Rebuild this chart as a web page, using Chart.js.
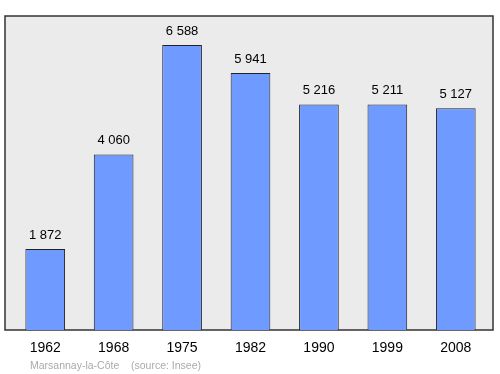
<!DOCTYPE html>
<html>
<head>
<meta charset="utf-8">
<script src="https://cdn.jsdelivr.net/npm/chart.js@4"></script>
<style>
    html, body { margin: 0; padding: 0; background: #fff; }
    #wrap { position: relative; width: 500px; height: 374px; }
    #note {
        position: absolute; left: 30px; top: 359px;
        font: 10.5px "Liberation Sans", Arial, sans-serif; color: #aaaaaa;
        white-space: pre;
    }
</style>
</head>
<body>
<div id="wrap">
    <canvas id="popChart" width="500" height="374"></canvas>
    <div id="note">Marsannay-la-Côte    (source: Insee)</div>
</div>
<script>
const years = ['1962', '1968', '1975', '1982', '1990', '1999', '2008'];
const population = [1872, 4060, 6588, 5941, 5216, 5211, 5127];

function withSpaces(n) {
    return String(n).replace(/\B(?=(\d{3})+(?!\d))/g, ' ');
}

// grey framed plot background
const frame = {
    id: 'frame',
    beforeDraw(chart) {
        const { ctx, chartArea: a } = chart;
        ctx.save();
        ctx.fillStyle = '#ebebeb';
        ctx.fillRect(a.left - 6, a.top, a.right - a.left + 9, a.bottom - a.top);
        ctx.strokeStyle = '#333';
        ctx.lineWidth = 1.5;
        ctx.strokeRect(a.left - 6, a.top, a.right - a.left + 9, a.bottom - a.top);
        ctx.restore();
    }
};

// value labels above bars
const valueLabels = {
    id: 'valueLabels',
    afterDatasetsDraw(chart) {
        const { ctx } = chart;
        const meta = chart.getDatasetMeta(0);
        ctx.save();
        ctx.font = '13px "Liberation Sans", Arial, sans-serif';
        ctx.fillStyle = '#000';
        ctx.textAlign = 'center';
        ctx.textBaseline = 'middle';
        meta.data.forEach((bar, i) => {
            ctx.fillText(withSpaces(population[i]), bar.x, bar.y - 14);
        });
        ctx.restore();
    }
};

const ctx = document.getElementById('popChart').getContext('2d');
new Chart(ctx, {
    type: 'bar',
    data: {
        labels: years,
        datasets: [{
            data: population,
            backgroundColor: '#6f9aff',
            borderColor: '#222',
            borderWidth: 1,
            categoryPercentage: 1,
            barPercentage: 0.58
        }]
    },
    options: {
        responsive: false,
        animation: false,
        layout: { padding: { left: 11, right: 10, top: 16, bottom: 14 } },
        plugins: {
            legend: { display: false },
            tooltip: { enabled: false }
        },
        scales: {
            x: {
                grid: { display: false, drawTicks: false },
                border: { display: false },
                ticks: {
                    color: '#000',
                    padding: 10,
                    font: { family: '"Liberation Sans", Arial, sans-serif', size: 14 }
                },
                afterFit: s => { s.height = 30; }
            },
            y: {
                display: false,
                min: 0,
                max: 7260
            }
        }
    },
    plugins: [frame, valueLabels]
});
</script>
</body>
</html>
